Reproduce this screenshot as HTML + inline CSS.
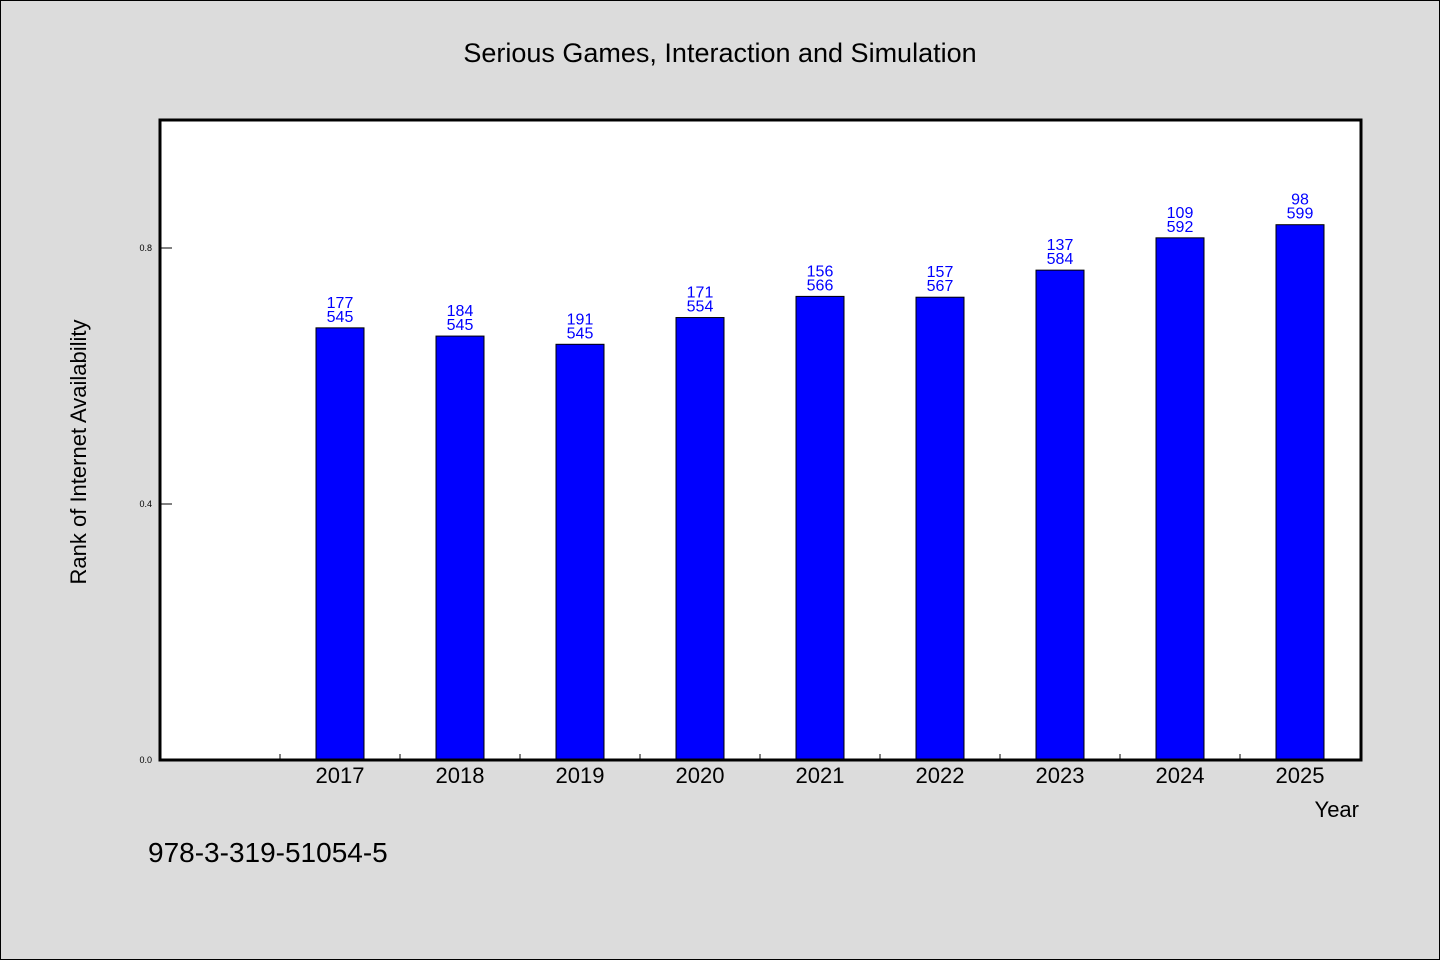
<!DOCTYPE html>
<html><head><meta charset="utf-8"><style>
body{margin:0;background:#dcdcdc;}
svg{display:block;}
.w{font-family:"WenQuanYi Zen Hei","Liberation Sans",sans-serif;}
</style></head><body>
<svg id="chart" width="1440" height="960" xmlns="http://www.w3.org/2000/svg">
<rect x="0.5" y="0.5" width="1439" height="959" fill="#dcdcdc" stroke="#000"/>
<text class="w" x="720" y="62" font-size="27" text-anchor="middle">Serious Games, Interaction and Simulation</text>
<rect x="160" y="120" width="1201" height="640" fill="#fff"/>
<g id="marks"></g>
<rect x="160" y="120" width="1201" height="640" fill="none" stroke="#000" stroke-width="3"/>
<text class="w" x="86" y="452" font-size="22" text-anchor="middle" transform="rotate(-90 86 452)">Rank of Internet Availability</text>
<text class="w" x="1359" y="817" font-size="22" text-anchor="end">Year</text>
<text class="w" x="148" y="862" font-size="28">978-3-319-51054-5</text>
</svg>
<script>
const years=["2017","2018","2019","2020","2021","2022","2023","2024","2025"];
const ranks=[177,184,191,171,156,157,137,109,98];
const totals=[545,545,545,554,566,567,584,592,599];
const yTicks=[0.0,0.4,0.8];
const NS="http://www.w3.org/2000/svg";
const g=document.getElementById('marks');
const x0=160,slot=120,y0=760,yMax=1.0,h=640;
const xC=i=>x0+slot*(i+1)+slot/2;
const yS=v=>y0-v/yMax*h;
function mk(t,a){const e=document.createElementNS(NS,t);for(const k in a)e.setAttribute(k,a[k]);g.appendChild(e);return e;}
yTicks.forEach(v=>{
 const l=mk('line',{x1:160,x2:172,y1:yS(v),y2:yS(v),stroke:'#000'});
 
 
 const t=mk('text',{x:152,y:yS(v)+3,'font-size':9,'text-anchor':'end','font-family':'Liberation Sans,sans-serif'});
 t.textContent=v.toFixed(1);
 
 
});
for(let k=1;k<=years.length;k++){
 const x=x0+slot*k;
 const l=mk('line',{x1:x,x2:x,y1:y0,y2:y0-6,stroke:'#000'});
 
 
}
years.forEach((yr,i)=>{
 const v=1-ranks[i]/totals[i];
 const cx=xC(i),top=yS(v);
 const b=mk('rect',{x:cx-24,y:top,width:48,height:y0-top,fill:'#0000ff',stroke:'#000','stroke-width':1});
 
 
 const t1=mk('text',{x:cx,y:top-20,'font-size':16,'text-anchor':'middle',fill:'#0000ff',class:'w'});
 t1.textContent=ranks[i];
 
 
 const t2=mk('text',{x:cx,y:top-6,'font-size':16,'text-anchor':'middle',fill:'#0000ff',class:'w'});
 t2.textContent=totals[i];
 
 
 const xl=mk('text',{x:cx,y:783,'font-size':22,'text-anchor':'middle',class:'w'});
 xl.textContent=yr;
 
 
});
</script>
</body></html>
